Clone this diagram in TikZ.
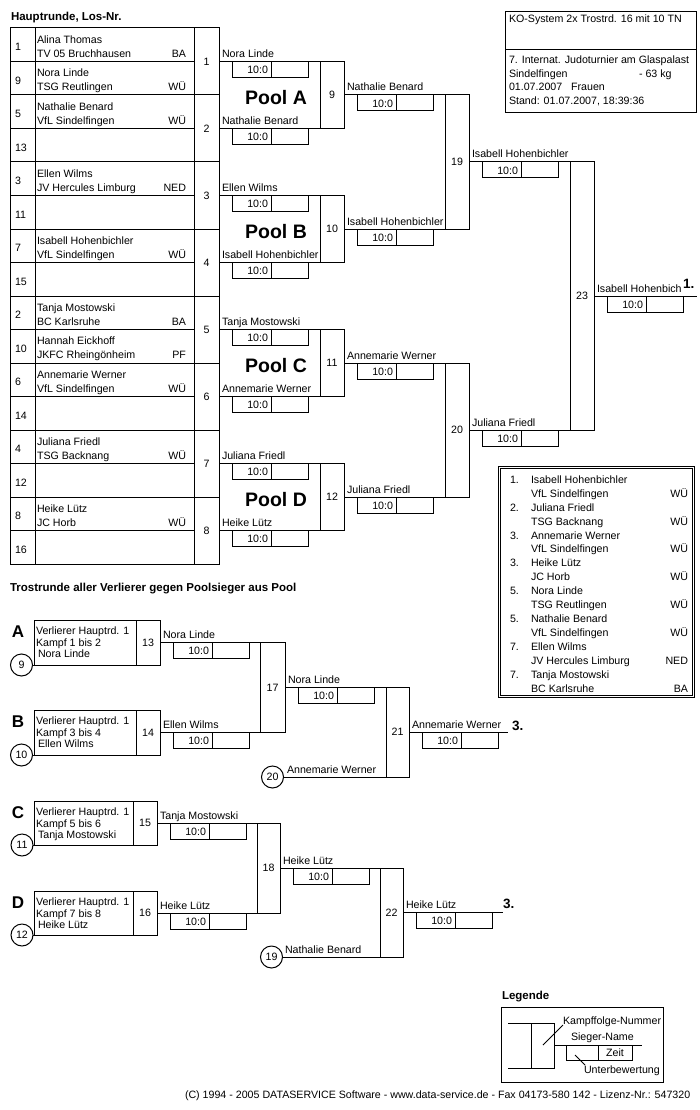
\documentclass[tikz,border=0pt]{standalone}
\usepackage{fontspec}
\setmainfont{Liberation Sans}
\newcommand\fs{\fontsize{10.65}{12}\selectfont}
\newcommand\ttlf{\fontsize{11.5}{13}\selectfont\bfseries}
\newcommand\poolf{\fontsize{19.5}{22}\selectfont\bfseries}
\newcommand\letf{\fontsize{17}{19}\selectfont\bfseries}
\newcommand\placef{\fontsize{13.5}{15}\selectfont\bfseries}
% winner line with name and score box
\newcommand\wnr[4]{%
  \draw (#1,#2) -- (#3,#2);
  \node[anchor=base west] at ({#1+3},{#2-4}) {#4};
  \draw ({#1+13},#2) rectangle ({#1+89},{#2+16});
  \draw ({#1+52},#2) -- ({#1+52},{#2+16});
  \node[anchor=east] at ({#1+49},{#2+8.5}) {10:0};
}
% match box with number
\newcommand\kmp[5]{%
  \draw (#1,#2) rectangle (#3,#4);
  \node at ({(#1+#3)/2},{(#2+#4)/2}) {#5};
}
% consolation entry box
\newcommand\trb[9]{% letter, ytop, ybot, xdiv, xright, label, line1, line2, line3
  \node[font=\letf] at (18,{#2+12}) {#1};
  \draw (34,#2) rectangle (#5,#3);
  \draw (#4,#2) -- (#4,#3);
  \node at ({(#4+#5)/2},{(#2+#3)/2}) {#6};
  \node[anchor=base west] at (36,{#2+14.5}) {#7};
  \node[anchor=base west] at (36,{#2+26}) {#8};
  \node[anchor=base west] at (38,{#2+37.5}) {#9};
}
\newcommand\circnum[4]{% x, y, number, line end x
  \node[draw,circle,minimum size=22pt] (c#3) at (#1,#2) {#3};
  \draw (c#3.east) -- (#4,#2);
}
\begin{document}
\begin{tikzpicture}[x=1pt,y=-1pt,line width=1pt,
  every node/.style={inner sep=0pt,outer sep=0pt,font=\fs}]
\fill[white] (0,0) rectangle (700,1110);
\useasboundingbox (0,0) rectangle (700,1110);

% ---------- Hauptrunde table ----------
\node[anchor=base west,font=\ttlf] (title1) at (11,20.7) {Hauptrunde, Los-Nr.};
\draw (10,28) rectangle (219,564);
\draw (35,28) -- (35,564);
\draw (194,28) -- (194,564);
\foreach \i in {1,3,...,15} \draw (10,{28+33.5*\i}) -- (194,{28+33.5*\i});
\foreach \i in {2,4,...,14} \draw (10,{28+33.5*\i}) -- (219,{28+33.5*\i});
\foreach \i/\los/\na/\cl/\co in {
  0/1/Alina Thomas/TV 05 Bruchhausen/BA,
  1/9/Nora Linde/TSG Reutlingen/WÜ,
  2/5/Nathalie Benard/VfL Sindelfingen/WÜ,
  3/13///,
  4/3/Ellen Wilms/JV Hercules Limburg/NED,
  5/11///,
  6/7/Isabell Hohenbichler/VfL Sindelfingen/WÜ,
  7/15///,
  8/2/Tanja Mostowski/BC Karlsruhe/BA,
  9/10/Hannah Eickhoff/JKFC Rheingönheim/PF,
  10/6/Annemarie Werner/VfL Sindelfingen/WÜ,
  11/14///,
  12/4/Juliana Friedl/TSG Backnang/WÜ,
  13/12///,
  14/8/Heike Lütz/JC Horb/WÜ,
  15/16///}{
  \node[anchor=base west] (los\i) at (15,{28+33.5*\i+22.7}) {\los};
  \node[anchor=base west] (na\i) at (37,{28+33.5*\i+15.3}) {\na};
  \node[anchor=base west] (cl\i) at (37,{28+33.5*\i+29.3}) {\cl};
  \node[anchor=base east] (co\i) at (186,{28+33.5*\i+29.3}) {\co};
}
\foreach \k in {1,...,8} \node (m\k) at (206.5,{61.5+67*(\k-1)}) {\k};

% ---------- first round winners ----------
\foreach \k/\nm in {1/Nora Linde,2/Nathalie Benard,3/Ellen Wilms,
  4/Isabell Hohenbichler,5/Tanja Mostowski,6/Annemarie Werner,
  7/Juliana Friedl,8/Heike Lütz}{
  \pgfmathsetmacro\yy{61.5+67*(\k-1)}
  \wnr{219}{\yy}{320}{\nm}
}
\node[font=\poolf] (poolA) at (276,98) {Pool A};
\node[font=\poolf] (poolB) at (276,232) {Pool B};
\node[font=\poolf] (poolC) at (276,366) {Pool C};
\node[font=\poolf] (poolD) at (276,500) {Pool D};

\kmp{320}{61.5}{344}{128.5}{9}
\kmp{320}{195.5}{344}{262.5}{10}
\kmp{320}{329.5}{344}{396.5}{11}
\kmp{320}{463.5}{344}{530.5}{12}
\wnr{344}{95}{445}{Nathalie Benard}
\wnr{344}{229}{445}{Isabell Hohenbichler}
\wnr{344}{363}{445}{Annemarie Werner}
\wnr{344}{497}{445}{Juliana Friedl}
\kmp{445}{95}{469}{229}{19}
\kmp{445}{363}{469}{497}{20}
\wnr{469}{162}{570}{Isabell Hohenbichler}
\wnr{469}{430}{570}{Juliana Friedl}
\kmp{570}{162}{594}{430}{23}
\wnr{594}{296}{697}{Isabell Hohenbich}
\node[anchor=base west,font=\placef] (p1) at (683,288) {1.};

% ---------- info box ----------
\draw (505,11.5) rectangle (696,113);
\draw (505,50) -- (696,50);
\node[anchor=base west] (i1) at (509,22.7) {KO-System 2x Trostrd. 16 mit 10 TN};
\node[anchor=base west] (i2) at (509,64) {7. Internat. Judoturnier am Glaspalast};
\node[anchor=base west] (i3) at (509,77.5) {Sindelfingen};
\node[anchor=base west] (i3b) at (639,77.5) {- 63 kg};
\node[anchor=base west] (i4) at (509,91) {01.07.2007\ \ \ Frauen};
\node[anchor=base west] (i5) at (509,104.5) {Stand: 01.07.2007, 18:39:36};

% ---------- results box ----------
\draw (498,466) rectangle (694.5,697.5);
\draw (500.5,468.5) rectangle (692,695);
\foreach \i/\p/\na/\cl/\co in {
  0/1./Isabell Hohenbichler/VfL Sindelfingen/WÜ,
  1/2./Juliana Friedl/TSG Backnang/WÜ,
  2/3./Annemarie Werner/VfL Sindelfingen/WÜ,
  3/3./Heike Lütz/JC Horb/WÜ,
  4/5./Nora Linde/TSG Reutlingen/WÜ,
  5/5./Nathalie Benard/VfL Sindelfingen/WÜ,
  6/7./Ellen Wilms/JV Hercules Limburg/NED,
  7/7./Tanja Mostowski/BC Karlsruhe/BA}{
  \node[anchor=base west] (rp\i) at (510,{483.3+27.86*\i}) {\p};
  \node[anchor=base west] (rn\i) at (531,{483.3+27.86*\i}) {\na};
  \node[anchor=base west] (rc\i) at (531,{497.2+27.86*\i}) {\cl};
  \node[anchor=base east] (ro\i) at (688,{497.2+27.86*\i}) {\co};
}

% ---------- Trostrunde ----------
\node[anchor=base west,font=\ttlf] (title2) at (10,591.7) {Trostrunde aller Verlierer gegen Poolsieger aus Pool};

\trb{A}{620}{665}{136}{160}{13}{Verlierer Hauptrd. 1}{Kampf 1 bis 2}{Nora Linde}
\circnum{21.5}{665}{9}{34}
\trb{B}{710}{755}{136}{160}{14}{Verlierer Hauptrd. 1}{Kampf 3 bis 4}{Ellen Wilms}
\circnum{21.5}{755}{10}{34}
\wnr{160}{642.5}{260}{Nora Linde}
\wnr{160}{732.5}{260}{Ellen Wilms}
\kmp{260}{642.5}{285}{732.5}{17}
\wnr{285}{687.5}{386}{Nora Linde}
\circnum{272.5}{777}{20}{386}
\node[anchor=base west] (l20) at (287,773) {Annemarie Werner};
\kmp{386}{687.5}{409}{777}{21}
\wnr{409}{732}{508}{Annemarie Werner}
\node[anchor=base west,font=\placef] (p3a) at (512,730.5) {3.};

\trb{C}{801}{845}{133}{157}{15}{Verlierer Hauptrd. 1}{Kampf 5 bis 6}{Tanja Mostowski}
\circnum{22}{845}{11}{34}
\trb{D}{891}{935}{133}{157}{16}{Verlierer Hauptrd. 1}{Kampf 7 bis 8}{Heike Lütz}
\circnum{22}{935}{12}{34}
\wnr{157}{823}{257}{Tanja Mostowski}
\wnr{157}{913}{257}{Heike Lütz}
\kmp{257}{823}{280}{913}{18}
\wnr{280}{868}{380}{Heike Lütz}
\circnum{271.5}{957}{19}{380}
\node[anchor=base west] (l19) at (285,953) {Nathalie Benard};
\kmp{380}{868}{403}{957}{22}
\wnr{403}{912.5}{503}{Heike Lütz}
\node[anchor=base west,font=\placef] (p3b) at (503,908) {3.};

% ---------- Legende ----------
\node[anchor=base west,font=\ttlf] (leg) at (502,999) {Legende};
\draw (501,1007) rectangle (663,1082);
\draw (508,1023) -- (531,1023);
\draw (508,1068) -- (531,1068);
\draw (531,1023) rectangle (554,1068);
\draw (554,1045) -- (642,1045);
\draw (566,1045) rectangle (632,1060);
\draw (598,1045) -- (598,1060);
\node (zeit) at (615,1052.5) {Zeit};
\draw[line width=0.8pt] (543,1045) -- (563,1025);
\draw[line width=0.8pt] (575,1055) -- (585,1065);
\node[anchor=base west] (lk) at (563,1024) {Kampffolge-Nummer};
\node[anchor=base west] (ls) at (571,1040) {Sieger-Name};
\node[anchor=base west] (lu) at (584,1073) {Unterbewertung};

% ---------- footer ----------
\node[anchor=base west] (foot) at (185,1098) {(C) 1994 - 2005 DATASERVICE Software - www.data-service.de - Fax 04173-580 142 - Lizenz-Nr.: 547320};
\end{tikzpicture}
\end{document}
